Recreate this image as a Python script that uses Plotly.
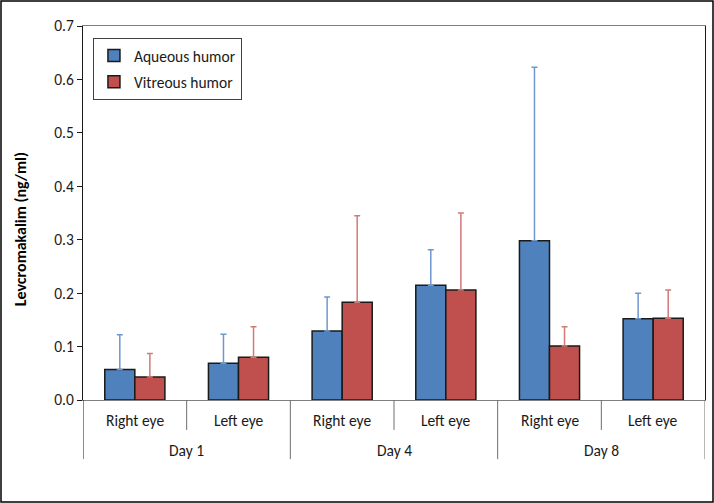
import plotly.graph_objects as go

days = ["Day 1", "Day 4", "Day 8"]
keys = ["D1R", "D1L", "D4R", "D4L", "D8R", "D8L"]
eye_labels = ["Right eye", "Left eye", "Right eye", "Left eye", "Right eye", "Left eye"]

aqueous = [0.057, 0.069, 0.129, 0.215, 0.298, 0.152]
aqueous_err = [0.065, 0.054, 0.064, 0.066, 0.325, 0.048]
vitreous = [0.043, 0.080, 0.183, 0.206, 0.101, 0.153]
vitreous_err = [0.044, 0.057, 0.162, 0.144, 0.036, 0.053]

yticks = [0.0, 0.1, 0.2, 0.3, 0.4, 0.5, 0.6, 0.7]
ytick_text = ["0.0", "0.1", "0.2", "0.3", "0.4", "0.5", "0.6", "0.7"]

FONT = "Carlito, Lato, sans-serif"
FS = 15.5

fig = go.Figure()
fig.add_trace(go.Bar(
    x=keys, y=aqueous, name="Aqueous humor", legendgroup="a",
    marker=dict(color="#4F81BD", line=dict(color="#1a1a1a", width=1.5)),
    error_y=dict(type="data", array=aqueous_err, arrayminus=[0] * 6, symmetric=False,
                 color="#6f97d1", thickness=1.5, width=3),
))
fig.add_trace(go.Bar(
    x=keys, y=vitreous, name="Vitreous humor", legendgroup="b",
    marker=dict(color="#C0504D", line=dict(color="#1a1a1a", width=1.5)),
    error_y=dict(type="data", array=vitreous_err, arrayminus=[0] * 6, symmetric=False,
                 color="#d27a78", thickness=1.5, width=3),
))

for k, lab in zip(keys, eye_labels):
    fig.add_annotation(x=k, y=-0.056, xref="x", yref="paper", text=lab, showarrow=False,
                       yanchor="middle", font=dict(family=FONT, size=FS, color="#1a1a1a"))
for i, d in enumerate(days):
    fig.add_annotation(x=2 * i + 0.5, y=-0.134, xref="x", yref="paper", text=d, showarrow=False,
                       yanchor="middle", font=dict(family=FONT, size=FS, color="#1a1a1a"))

for xv in [-0.5, 1.5, 3.5, 5.5]:
    fig.add_shape(type="line", x0=xv, x1=xv, y0=0, y1=-0.158, xref="x", yref="paper",
                  line=dict(color="#6e6e6e" if xv != -0.5 else "#1a1a1a", width=1))
for xv in [0.5, 2.5, 4.5]:
    fig.add_shape(type="line", x0=xv, x1=xv, y0=0, y1=-0.08, xref="x", yref="paper",
                  line=dict(color="#6e6e6e", width=1))

fig.add_annotation(x=-0.101, y=0.457, xref="paper", yref="paper", text="<b>Levcromakalim (ng/ml)</b>",
                   textangle=-90, showarrow=False, xanchor="center", yanchor="middle",
                   font=dict(family=FONT, size=16, color="#000000"))

fig.add_shape(type="rect", xref="paper", yref="paper",
              x0=-82 / 622, x1=1 + 8 / 622, y0=-102 / 374, y1=1 + 25 / 374,
              line=dict(color="#000000", width=1.5))

fig.update_layout(
    width=714, height=503,
    margin=dict(l=83, r=9, t=26, b=103),
    paper_bgcolor="white", plot_bgcolor="white",
    barmode="group", bargap=0.42, bargroupgap=0,
    font=dict(family=FONT, size=FS, color="#1a1a1a"),
    legend=dict(x=0.016, y=0.968, xanchor="left", yanchor="top",
                bordercolor="#404040", borderwidth=1, bgcolor="white",
                itemwidth=30, tracegroupgap=3,
                font=dict(family=FONT, size=FS, color="#1a1a1a")),
    xaxis=dict(type="category", range=[-0.5, 5.5], showticklabels=False, ticks="",
               showline=True, linecolor="#7f7f7f", linewidth=1, mirror=True,
               showgrid=False, zeroline=False),
    yaxis=dict(range=[0, 0.7], tickvals=yticks, ticktext=ytick_text, ticks="outside",
               ticklen=5, tickcolor="#1a1a1a", showline=True, linecolor="#1a1a1a",
               linewidth=1, mirror=True, showgrid=False, zeroline=False,
               tickfont=dict(family=FONT, size=FS, color="#1a1a1a")),
)

fig.write_html("out.html", config={"displayModeBar": False},
               post_script="document.body.style.margin='0';document.body.style.overflow='hidden';")
